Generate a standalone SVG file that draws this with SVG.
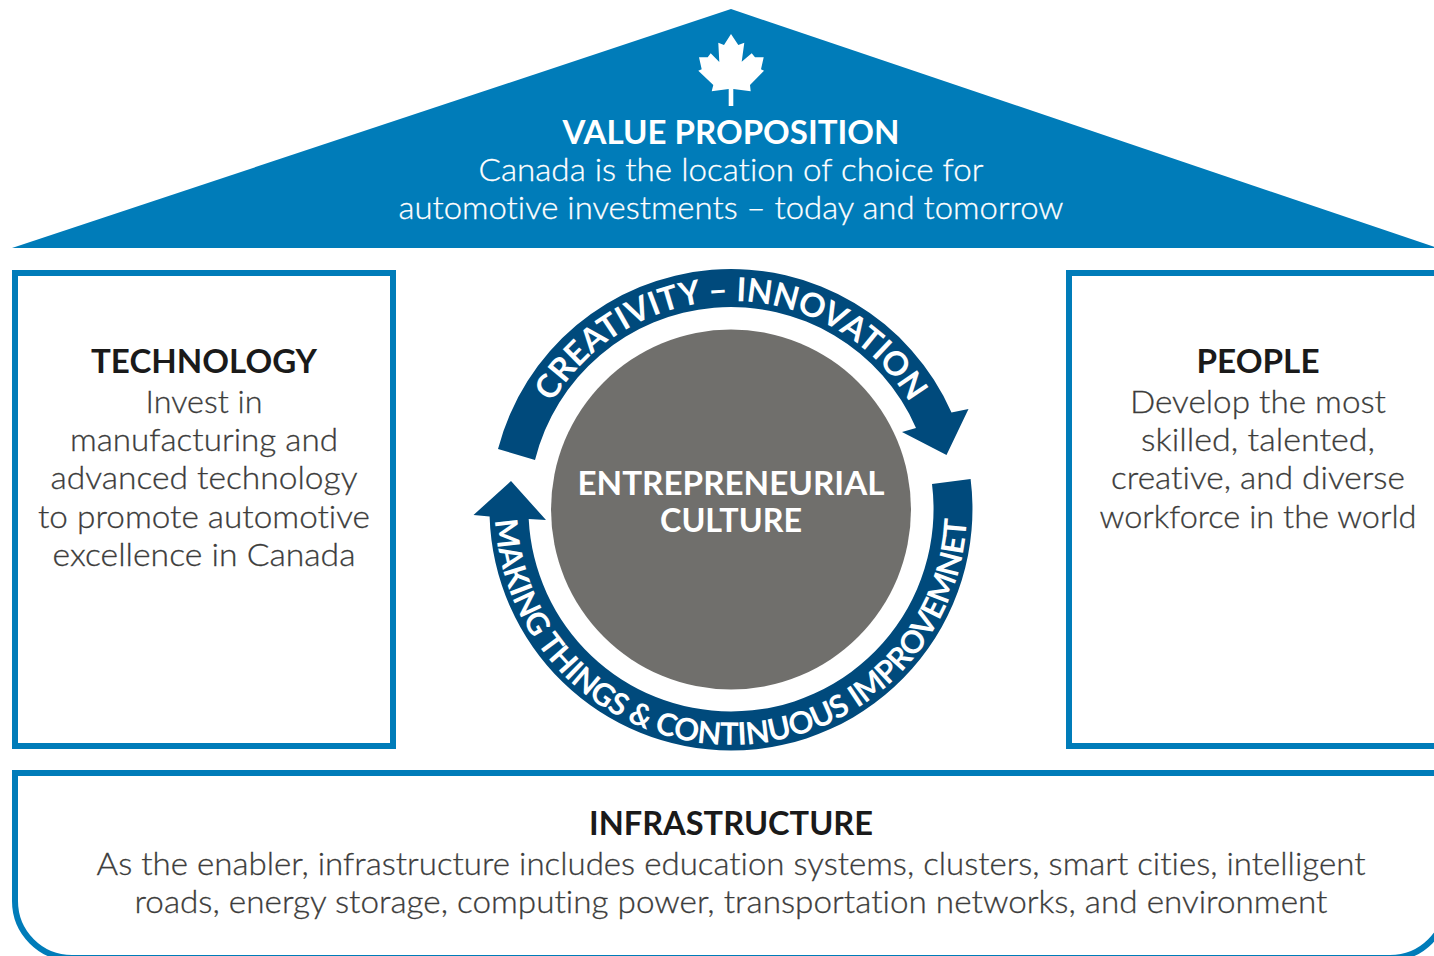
<svg xmlns="http://www.w3.org/2000/svg" width="1434" height="956" viewBox="0 0 1434 956">
<style>
text{font-family:"Lato","Open Sans","Liberation Sans",sans-serif;text-anchor:middle;font-variant-ligatures:none}
.h{font-size:32px;font-weight:700;fill:#1a1a1a}
.b{font-size:32px;font-weight:300;fill:#3c3c3b;stroke:#3c3c3b;stroke-width:.3px}
.wb{fill:#fff;font-size:32px;font-weight:700}
.wl{fill:#fff;font-size:32px;font-weight:300;stroke:#fff;stroke-width:.3px}
.box{fill:#fff;stroke:#007cb9;stroke-width:6}
.ring{fill:#004a7c}
.rt{font-size:33px;font-weight:700;fill:#fff}
.rb{font-size:31px;font-weight:700;fill:#fff;letter-spacing:-.4px}
</style>
<defs>
<path id="pTop" d="M 523 509 A 208 208 0 0 1 939 509"/>
<path id="pBot" d="M 495 509 A 236 236 0 0 0 967 509"/>
</defs>
<rect width="1434" height="956" fill="#fff"/>
<g id="value-proposition">
<polygon points="731,9 1438,248 12,248" fill="#007cb9"/>
<polygon fill="#fff" points="731,34 738.3,45 744.3,42.7 741.7,61.7 751.7,53.3 755,57.3 763.7,57.3 761,69.3 764,70.7 750,85 750.7,91.3 733.3,89 733.3,106 728.7,106 728.7,89 711.7,91.3 713.3,85 698.3,70.7 701.7,69.3 699,57.3 707.7,57.3 710.7,53.3 719.3,62 718.3,42.7 724,45"/>
<text class="wb" x="731" y="143.500" textLength="337" lengthAdjust="spacingAndGlyphs">VALUE PROPOSITION</text>
<text class="wl" x="731" y="181" textLength="505" lengthAdjust="spacingAndGlyphs">Canada is the location of choice for</text>
<text class="wl" x="731" y="219" textLength="665" lengthAdjust="spacingAndGlyphs">automotive investments – today and tomorrow</text>
</g>
<g id="technology">
<rect class="box" x="15" y="273" width="378" height="473"/>
<text class="h" x="204" y="373" textLength="226" lengthAdjust="spacingAndGlyphs">TECHNOLOGY</text>
<text class="b" x="204" y="412.500" textLength="117" lengthAdjust="spacingAndGlyphs">Invest in</text>
<text class="b" x="204" y="450.500" textLength="268" lengthAdjust="spacingAndGlyphs">manufacturing and</text>
<text class="b" x="204" y="488.500" textLength="307" lengthAdjust="spacingAndGlyphs">advanced technology</text>
<text class="b" x="204" y="527.500" textLength="332" lengthAdjust="spacingAndGlyphs">to promote automotive</text>
<text class="b" x="204" y="565.500" textLength="303" lengthAdjust="spacingAndGlyphs">excellence in Canada</text>
</g>
<g id="people">
<rect class="box" x="1069" y="273" width="380" height="473"/>
<text class="h" x="1258" y="373" textLength="123" lengthAdjust="spacingAndGlyphs">PEOPLE</text>
<text class="b" x="1258" y="412.500" textLength="256" lengthAdjust="spacingAndGlyphs">Develop the most</text>
<text class="b" x="1258" y="450.500" textLength="234" lengthAdjust="spacingAndGlyphs">skilled, talented,</text>
<text class="b" x="1258" y="488.500" textLength="294" lengthAdjust="spacingAndGlyphs">creative, and diverse</text>
<text class="b" x="1258" y="527.500" textLength="317" lengthAdjust="spacingAndGlyphs">workforce in the world</text>
</g>
<g id="infrastructure">
<path d="M 15 773 H 1447 V 901 A 57 57 0 0 1 1390 958 H 72 A 57 57 0 0 1 15 901 Z" class="box"/>
<text class="h" x="731" y="835" textLength="284" lengthAdjust="spacingAndGlyphs">INFRASTRUCTURE</text>
<text class="b" x="731" y="874.500" textLength="1269" lengthAdjust="spacingAndGlyphs">As the enabler, infrastructure includes education systems, clusters, smart cities, intelligent</text>
<text class="b" x="731" y="912.500" textLength="1193" lengthAdjust="spacingAndGlyphs">roads, energy storage, computing power, transportation networks, and environment</text>
</g>
<g id="entrepreneurial-culture">
<circle cx="731" cy="509.500" r="180" fill="#706f6c"/>
<text class="wb" x="731" y="495" textLength="307" lengthAdjust="spacingAndGlyphs">ENTREPRENEURIAL</text>
<text class="wb" x="731" y="532" textLength="142" lengthAdjust="spacingAndGlyphs">CULTURE</text>
</g>
<g id="connectors">
<g id="arc-top">
<path class="ring" d="M 498 449 A 241 241 0 0 1 951.500 412.500 L 968.500 409 L 946.500 455 L 902 432 L 916 428 A 202 202 0 0 0 535 460 Z"/>
<text class="rt"><textPath href="#pTop" startOffset="50%">CREATIVITY – INNOVATION</textPath></text>
</g>
<g id="arc-bottom">
<path class="ring" d="M 970.600 479 A 241.500 241.500 0 0 1 731 750.500 A 241.500 241.500 0 0 1 489.600 516.400 L 473.500 515 L 511 481 L 546 520 L 528.700 519 A 202.500 202.500 0 0 0 731 711.500 A 202.500 202.500 0 0 0 932 484 Z"/>
<text class="rb"><textPath href="#pBot" startOffset="50%">MAKING THINGS &amp; CONTINUOUS IMPROVEMNET</textPath></text>
</g>
</g>
</svg>
